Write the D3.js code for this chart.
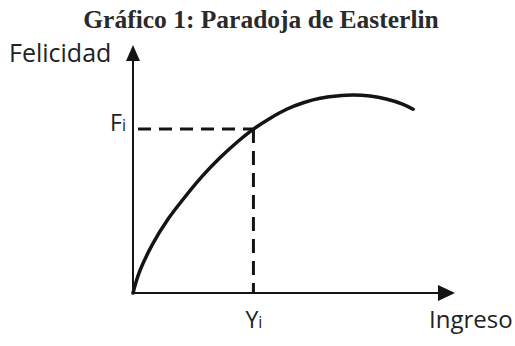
<!DOCTYPE html>
<html>
<head>
<meta charset="utf-8">
<script src="https://cdn.jsdelivr.net/npm/d3@7"></script>
<style>
  html, body { margin: 0; padding: 0; background: #fff; }
  svg { display: block; }
</style>
</head>
<body>
<svg id="chart"></svg>
<script>
var width = 515;
var height = 346;

// curve (income, happiness)
var ingreso   = [0, 0.20, 0.60, 1.10, 1.60, 2.18, 2.70, 3.22, 3.74, 4.25, 4.77, 5.29, 5.81, 6.33, 6.84, 7.36, 7.89, 8.39, 8.70];
var felicidad = [0, 0.85, 1.95, 3.00, 3.85, 4.75, 5.45, 6.07, 6.61, 7.04, 7.41, 7.67, 7.85, 7.94, 7.98, 7.94, 7.81, 7.61, 7.41];

// the marked point
var puntoY = [3.74];
var puntoF = [6.61];

var titulo = "Gráfico 1: Paradoja de Easterlin";
var ejeY = "Felicidad";
var ejeX = "Ingreso";

var svg = d3.select("#chart")
    .attr("width", width)
    .attr("height", height);

var x = d3.scaleLinear().domain([0, 10]).range([133, 455]);
var y = d3.scaleLinear().domain([0, 10]).range([293, 45]);

var ink = "#141414";

svg.append("text")
    .attr("x", 261)
    .attr("y", 28)
    .attr("text-anchor", "middle")
    .attr("font-family", "Liberation Serif, serif")
    .attr("font-weight", "bold")
    .attr("font-size", 25.5)
    .attr("fill", "#2a2a2a")
    .text(titulo);

// axes
svg.append("line")
    .attr("x1", x(0)).attr("y1", y(0))
    .attr("x2", x(9.5)).attr("y2", y(0))
    .attr("stroke", ink)
    .attr("stroke-width", 2);

svg.append("line")
    .attr("x1", x(0)).attr("y1", y(0))
    .attr("x2", x(0)).attr("y2", y(9.4))
    .attr("stroke", ink)
    .attr("stroke-width", 2);

// arrow heads
svg.append("path")
    .attr("d", `M${x(10)},${y(0)} L${x(10) - 17},${y(0) - 8} L${x(10) - 17},${y(0) + 8} Z`)
    .attr("fill", ink);

svg.append("path")
    .attr("d", `M${x(0)},${y(10)} L${x(0) - 7},${y(10) + 16} L${x(0) + 7},${y(10) + 16} Z`)
    .attr("fill", ink);

// dashed guides
svg.append("line")
    .attr("x1", x(0)).attr("y1", y(puntoF[0]))
    .attr("x2", x(puntoY[0])).attr("y2", y(puntoF[0]))
    .attr("stroke", ink)
    .attr("stroke-width", 3)
    .attr("stroke-dasharray", "13,8")
    .attr("stroke-dashoffset", -5);

svg.append("line")
    .attr("x1", x(puntoY[0])).attr("y1", y(puntoF[0]))
    .attr("x2", x(puntoY[0])).attr("y2", y(0))
    .attr("stroke", ink)
    .attr("stroke-width", 3)
    .attr("stroke-dasharray", "14,8");

// the curve
var pts = ingreso.map((d, i) => [d, felicidad[i]]);
svg.append("path")
    .datum(pts)
    .attr("fill", "none")
    .attr("stroke", ink)
    .attr("stroke-width", 3.5)
    .attr("stroke-linecap", "round")
    .attr("d", d3.line()
        .x(d => x(d[0]))
        .y(d => y(d[1]))
        .curve(d3.curveCatmullRom));

// labels
var sans = "Open Sans, sans-serif";

svg.append("text")
    .attr("x", 9)
    .attr("y", 62)
    .attr("font-family", sans)
    .attr("font-size", 25)
    .attr("fill", "#222")
    .text(ejeY);

svg.append("text")
    .attr("x", 429)
    .attr("y", 328)
    .attr("font-family", sans)
    .attr("font-size", 24)
    .attr("fill", "#222")
    .text(ejeX);

var fi = svg.append("text")
    .attr("x", 110)
    .attr("y", 131)
    .attr("font-family", sans)
    .attr("font-size", 23)
    .attr("fill", "#222");
fi.append("tspan").text("F");
fi.append("tspan").attr("font-size", 16).text("i");

var yi = svg.append("text")
    .attr("x", x(puntoY[0]) - 8)
    .attr("y", 328)
    .attr("font-family", sans)
    .attr("font-size", 23)
    .attr("fill", "#222");
yi.append("tspan").text("Y");
yi.append("tspan").attr("font-size", 16).text("i");
</script>
</body>
</html>
